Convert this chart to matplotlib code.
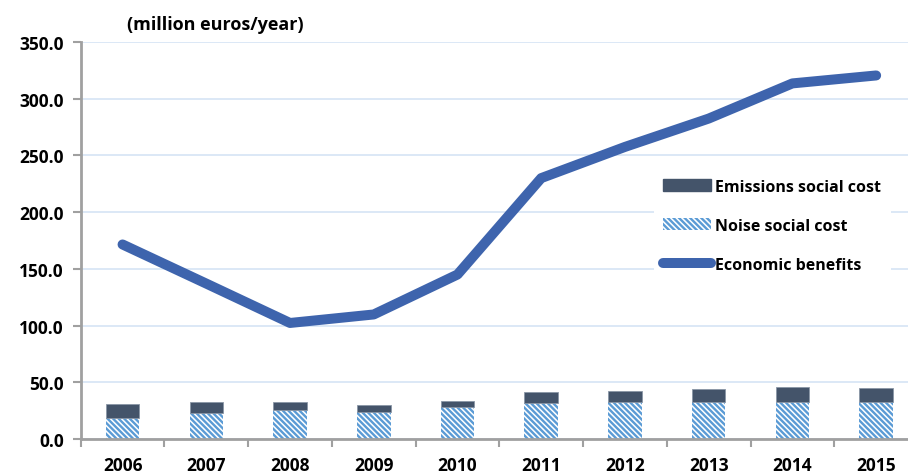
import numpy as np
import matplotlib.pyplot as plt
from matplotlib.patches import Patch
from matplotlib.lines import Line2D

plt.rcParams["font.family"] = ["Open Sans", "DejaVu Sans"]
plt.rcParams["hatch.linewidth"] = 1.7

years = ["2006", "2007", "2008", "2009", "2010", "2011", "2012", "2013", "2014", "2015"]
noise_cost = [18.2, 22.9, 25.8, 24.1, 27.9, 31.7, 32.3, 32.9, 32.9, 32.9]
emissions_cost = [12.9, 9.4, 6.5, 5.5, 5.5, 9.4, 10.3, 10.8, 12.6, 11.7]
economic_benefits = [171.5, 137.0, 102.3, 109.8, 145.0, 230.0, 257.5, 282.5, 313.5, 320.5]

dark = "#44546A"
noise_blue = "#5B9BD5"
line_blue = "#3E64AD"
grid_blue = "#D6E4F5"
axis_grey = "#A0A0A0"
hatch = "\\" * 6

fig = plt.figure(figsize=(9.08, 4.77), dpi=100)
ax = fig.add_axes([80.7 / 908, 37 / 477, (918 - 80.7) / 908, 397 / 477])

x = np.arange(len(years))
ax.bar(x, noise_cost, width=0.4, color="white", edgecolor=noise_blue,
       hatch=hatch, linewidth=0, zorder=2)
ax.bar(x, emissions_cost, width=0.4, bottom=noise_cost, color=dark,
       edgecolor="#8A96A6", linewidth=0.6, zorder=2)
ax.plot(x, economic_benefits, color=line_blue, lw=7.2,
        solid_capstyle="round", solid_joinstyle="round", zorder=3)

ax.set_ylim(0, 350)
ax.set_xlim(-0.5, len(years) - 0.5)
ax.set_yticks(np.arange(0, 351, 50))
ax.set_yticklabels([f"{v:.1f}" for v in np.arange(0, 351, 50)],
                   fontsize=12.5, fontweight="bold")
ax.set_xticks(x)
ax.set_xticklabels(years, fontsize=12.5, fontweight="bold")
ax.set_xticks(np.arange(-0.5, len(years), 1), minor=True)
ax.tick_params(axis="x", which="major", length=0, pad=12)
ax.tick_params(axis="x", which="minor", length=6, color=axis_grey, width=1.5)
ax.tick_params(axis="y", length=6, color=axis_grey, width=1.5, pad=6)

ax.yaxis.grid(True, color=grid_blue, lw=1.2, zorder=0)
ax.set_axisbelow(True)
for s in ["top", "right"]:
    ax.spines[s].set_visible(False)
for s in ["left", "bottom"]:
    ax.spines[s].set_color(axis_grey)
    ax.spines[s].set_linewidth(2)
ax.spines["bottom"].set_zorder(4)

handles = [
    Patch(facecolor=dark, edgecolor=dark),
    Patch(facecolor="white", edgecolor=noise_blue, hatch=hatch, linewidth=0),
    Line2D([0], [0], color=line_blue, lw=7.2, solid_capstyle="round"),
]
labels = ["Emissions social cost", "Noise social cost", "Economic benefits"]
leg = ax.legend(handles, labels, loc="upper left", bbox_to_anchor=(0.675, 0.7),
                frameon=True, facecolor="white", edgecolor="none", framealpha=1,
                fontsize=11.5, handlelength=3.0, handleheight=0.8,
                handletextpad=0.25, labelspacing=1.45, borderpad=0.6)
for t in leg.get_texts():
    t.set_fontweight("bold")

fig.text(215 / 908, 1 - 25 / 477, "(million euros/year)", ha="center",
         va="center", fontsize=13, fontweight="bold")

fig.savefig("out.png", dpi=100)
